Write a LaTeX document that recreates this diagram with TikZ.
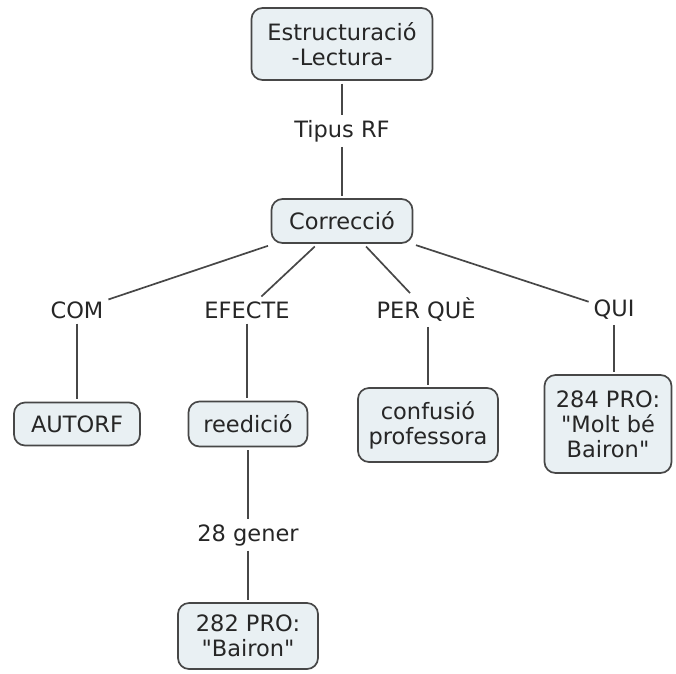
\documentclass[tikz,border=0pt]{standalone}
\usepackage{fontspec}
\setmainfont{DejaVu Sans}
\begin{document}
\begin{tikzpicture}[x=1pt,y=-1pt,
  concept/.style={draw=black!72, line width=1.7pt, fill=cboxfill,
    rounded corners=11pt, align=center, inner sep=0pt, outer sep=3.5pt,
    text=black!85, font=\fontsize{22.5}{25}\selectfont},
  linklabel/.style={inner sep=2pt, outer sep=3pt, text=black!85,
    font=\fontsize{22.5}{25}\selectfont},
  link/.style={draw=black!72, line width=1.7pt}]
\definecolor{cboxfill}{HTML}{E9F0F3}
\useasboundingbox (0,0) rectangle (676,673);

% concepts
\node[concept, minimum width=181pt, minimum height=72pt] (estr) at (342,44) {Estructuració\\-Lectura-};
\node[concept, minimum width=141pt, minimum height=44pt] (corr) at (342,221) {Correcció};
\node[concept, minimum width=126pt, minimum height=43pt] (autorf) at (77,424) {AUTORF};
\node[concept, minimum width=119pt, minimum height=45pt] (reed) at (248,424) {reedició};
\node[concept, minimum width=140pt, minimum height=74pt] (conf) at (428,425) {confusió\\professora};
\node[concept, minimum width=127pt, minimum height=98pt] (p284) at (608,424) {284 PRO:\\\textquotedbl Molt bé\\Bairon\textquotedbl};
\node[concept, minimum width=140pt, minimum height=66pt] (p282) at (248,636) {282 PRO:\\\textquotedbl Bairon\textquotedbl};

% linking phrases
\node[linklabel] (tipus) at (342,131) {Tipus RF};
\node[linklabel] (com) at (77,310) {COM};
\node[linklabel] (efecte) at (247,310) {EFECTE};
\node[linklabel] (perque) at (426,310) {PER QUÈ};
\node[linklabel] (qui) at (614,310) {QUI};
\node[linklabel] (gener) at (248,535) {28 gener};

% connectors
\draw[link] (estr) -- (tipus);
\draw[link] (tipus) -- (corr);
\draw[link] (corr) -- (com);
\draw[link] (corr) -- (efecte);
\draw[link] (corr) -- (perque);
\draw[link] (corr) -- (qui);
\draw[link] (com) -- (autorf);
\draw[link] (efecte.south) -- (reed.north -| efecte.south);
\draw[link] (conf.north |- perque.south) -- (conf.north);
\draw[link] (qui.south) -- (p284.north -| qui.south);
\draw[link] (reed) -- (gener);
\draw[link] (gener) -- (p282);
\end{tikzpicture}
\end{document}
